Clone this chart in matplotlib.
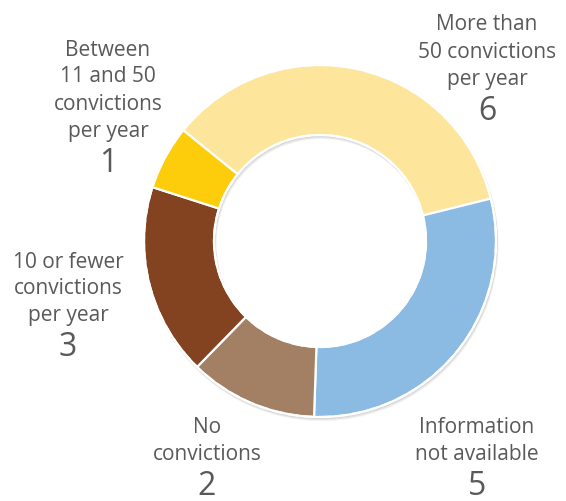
import matplotlib
matplotlib.use("Agg")
import matplotlib.pyplot as plt
from matplotlib.patches import Circle, Wedge

# Number of respondents by conviction volume
categories = [
    "More than\n50 convictions\nper year",
    "Information\nnot available",
    "No\nconvictions",
    "10 or fewer\nconvictions\nper year",
    "Between\n11 and 50\nconvictions\nper year",
]
counts = [6, 5, 2, 3, 1]
colors = ["#FDE59B", "#8BBAE2", "#A37F63", "#834321", "#FDCC0A"]

# label anchor (centre x, top y) in pixel space, y measured from the top
label_pos = [(487, 25), (477, 428), (207, 428), (68, 262), (108, 50)]

TEXT = "#595959"
W, H = 566, 502
CX, CY = 320, H - 242
R_OUT, R_IN = 176, 106

plt.rcParams["font.family"] = ["Open Sans", "DejaVu Sans"]

fig = plt.figure(figsize=(W / 100, H / 100), dpi=100)
fig.patch.set_facecolor("white")
ax = fig.add_axes([0, 0, 1, 1])

# soft drop shadow under the ring
for off, a in [(3, 0.10), (2, 0.12), (1, 0.14)]:
    ax.add_patch(Wedge((CX + off * 0.5, CY - off), R_OUT + 1, 0, 360,
                       width=R_OUT - R_IN + 2, facecolor="#808080",
                       edgecolor="none", alpha=a, zorder=1))

wedges, _ = ax.pie(
    counts, colors=colors, radius=R_OUT, center=(CX, CY),
    startangle=141, counterclock=False,
    wedgeprops=dict(width=R_OUT - R_IN, edgecolor="white", linewidth=1.6),
)
for w in wedges:
    w.set_zorder(2)

# dashed white rims
for r in (R_OUT, R_IN):
    ax.add_patch(Circle((CX, CY), r, fill=False, edgecolor="white",
                        linewidth=1.6, linestyle=(0, (5, 2)), zorder=3))

line_h = 27
for text, n, (x, y) in zip(categories, counts, label_pos):
    lines = text.split("\n")
    for i, ln in enumerate(lines):
        ax.text(x, H - (y + i * line_h), ln, ha="center", va="center",
                fontsize=15, color=TEXT, zorder=4)
    ax.text(x, H - (y + (len(lines) - 1) * line_h + 32), str(n),
            ha="center", va="center", fontsize=23, color=TEXT, zorder=4)

ax.set_xlim(0, W)
ax.set_ylim(0, H)
ax.set_aspect("equal")
ax.axis("off")

fig.savefig("out.png", dpi=100, facecolor="white")
